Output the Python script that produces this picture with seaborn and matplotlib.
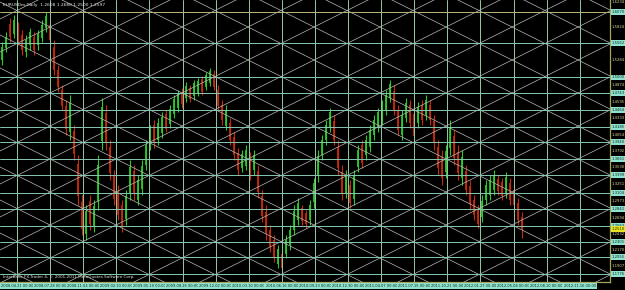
import numpy as np
import pandas as pd
import matplotlib
matplotlib.use("Agg")
import matplotlib.pyplot as plt
import seaborn as sns

# ---------------- data ----------------
chart_title = "EURUSDm,Daily  1.2608 1.2680 1.2500 1.2597"
footer_text = "Interbank FX-Trader 4, \u00a9 2001-2011 MetaQuotes Software Corp."

opens = [1.528, 1.548, 1.588, 1.571, 1.583, 1.569, 1.541, 1.553, 1.566, 1.553,
         1.564, 1.581, 1.586, 1.550, 1.512, 1.479, 1.453, 1.410, 1.412, 1.358,
         1.296, 1.243, 1.297, 1.255, 1.298, 1.396, 1.442, 1.385, 1.338, 1.313,
         1.290, 1.267, 1.309, 1.346, 1.299, 1.317, 1.356, 1.388, 1.422, 1.397,
         1.408, 1.440, 1.423, 1.440, 1.449, 1.476, 1.466, 1.482, 1.469, 1.474,
         1.497, 1.484, 1.491, 1.506, 1.479, 1.455, 1.421, 1.425, 1.402, 1.376,
         1.351, 1.355, 1.369, 1.348, 1.346, 1.305, 1.280, 1.250, 1.233, 1.194,
         1.210, 1.211, 1.225, 1.250, 1.266, 1.285, 1.277, 1.266, 1.295, 1.338,
         1.372, 1.397, 1.417, 1.429, 1.386, 1.345, 1.310, 1.323, 1.301, 1.353,
         1.389, 1.372, 1.386, 1.405, 1.417, 1.430, 1.446, 1.466, 1.478, 1.446,
         1.405, 1.433, 1.455, 1.440, 1.425, 1.455, 1.438, 1.455, 1.428, 1.386,
         1.370, 1.345, 1.384, 1.403, 1.378, 1.335, 1.346, 1.322, 1.299, 1.284,
         1.271, 1.299, 1.307, 1.315, 1.334, 1.328, 1.310, 1.327, 1.316, 1.294,
         1.271]
highs = [1.558, 1.574, 1.597, 1.602, 1.591, 1.578, 1.569, 1.581, 1.574, 1.578,
         1.594, 1.607, 1.594, 1.561, 1.520, 1.487, 1.463, 1.471, 1.422, 1.373,
         1.307, 1.291, 1.307, 1.299, 1.373, 1.466, 1.455, 1.397, 1.348, 1.323,
         1.299, 1.315, 1.364, 1.356, 1.340, 1.364, 1.397, 1.422, 1.430, 1.433,
         1.443, 1.446, 1.455, 1.471, 1.479, 1.482, 1.492, 1.487, 1.496, 1.499,
         1.502, 1.509, 1.515, 1.512, 1.487, 1.463, 1.455, 1.433, 1.410, 1.384,
         1.381, 1.389, 1.378, 1.381, 1.356, 1.315, 1.291, 1.258, 1.241, 1.225,
         1.217, 1.241, 1.258, 1.291, 1.302, 1.291, 1.283, 1.299, 1.335, 1.381,
         1.405, 1.430, 1.450, 1.438, 1.397, 1.356, 1.348, 1.332, 1.348, 1.389,
         1.397, 1.405, 1.422, 1.438, 1.450, 1.463, 1.479, 1.496, 1.487, 1.455,
         1.446, 1.466, 1.463, 1.450, 1.460, 1.463, 1.471, 1.463, 1.438, 1.397,
         1.381, 1.389, 1.430, 1.414, 1.389, 1.381, 1.356, 1.332, 1.307, 1.291,
         1.307, 1.332, 1.340, 1.348, 1.340, 1.335, 1.345, 1.335, 1.323, 1.302,
         1.279]
lows = [1.520, 1.541, 1.558, 1.564, 1.553, 1.537, 1.533, 1.545, 1.537, 1.545,
        1.558, 1.574, 1.553, 1.504, 1.476, 1.446, 1.405, 1.397, 1.364, 1.291,
        1.241, 1.233, 1.250, 1.246, 1.283, 1.381, 1.381, 1.332, 1.291, 1.266,
        1.246, 1.258, 1.299, 1.299, 1.291, 1.307, 1.348, 1.381, 1.384, 1.389,
        1.400, 1.410, 1.417, 1.433, 1.443, 1.450, 1.460, 1.460, 1.463, 1.469,
        1.471, 1.479, 1.486, 1.479, 1.446, 1.422, 1.414, 1.389, 1.364, 1.340,
        1.345, 1.348, 1.332, 1.340, 1.302, 1.263, 1.233, 1.214, 1.197, 1.187,
        1.181, 1.204, 1.217, 1.241, 1.258, 1.258, 1.253, 1.258, 1.286, 1.328,
        1.364, 1.389, 1.410, 1.389, 1.340, 1.299, 1.302, 1.286, 1.291, 1.345,
        1.351, 1.364, 1.378, 1.397, 1.410, 1.422, 1.438, 1.460, 1.438, 1.405,
        1.397, 1.427, 1.417, 1.394, 1.417, 1.422, 1.430, 1.422, 1.381, 1.340,
        1.323, 1.335, 1.373, 1.356, 1.332, 1.323, 1.307, 1.283, 1.266, 1.253,
        1.263, 1.291, 1.299, 1.307, 1.307, 1.299, 1.302, 1.291, 1.283, 1.258,
        1.237]
closes = [1.550, 1.566, 1.566, 1.594, 1.561, 1.545, 1.561, 1.574, 1.545, 1.571,
          1.586, 1.600, 1.561, 1.512, 1.484, 1.453, 1.415, 1.458, 1.374, 1.305,
          1.252, 1.281, 1.259, 1.289, 1.357, 1.451, 1.394, 1.343, 1.300, 1.275,
          1.254, 1.305, 1.353, 1.308, 1.332, 1.354, 1.389, 1.415, 1.392, 1.425,
          1.435, 1.416, 1.448, 1.464, 1.472, 1.456, 1.486, 1.465, 1.490, 1.494,
          1.476, 1.504, 1.510, 1.484, 1.453, 1.430, 1.447, 1.397, 1.373, 1.348,
          1.374, 1.381, 1.340, 1.373, 1.312, 1.272, 1.244, 1.222, 1.205, 1.218,
          1.188, 1.234, 1.250, 1.281, 1.294, 1.264, 1.259, 1.291, 1.326, 1.371,
          1.397, 1.422, 1.443, 1.398, 1.351, 1.310, 1.340, 1.294, 1.338, 1.381,
          1.359, 1.397, 1.414, 1.430, 1.443, 1.455, 1.471, 1.489, 1.447, 1.414,
          1.438, 1.458, 1.425, 1.404, 1.452, 1.430, 1.463, 1.430, 1.392, 1.351,
          1.335, 1.379, 1.419, 1.367, 1.343, 1.370, 1.316, 1.292, 1.274, 1.260,
          1.298, 1.324, 1.332, 1.340, 1.313, 1.306, 1.337, 1.299, 1.291, 1.266,
          1.251]

level_prices = [1.6070, 1.5562, 1.5000, 1.4743, 1.4464, 1.4185, 1.3940, 1.3661,
                1.3399, 1.3104, 1.2842, 1.2563, 1.2301, 1.2055, 1.1776]
scale_prices = [1.6234, 1.5824, 1.5284, 1.4874, 1.4595, 1.4333, 1.4054, 1.3792,
                1.3530, 1.3251, 1.2973, 1.2694, 1.2432, 1.2170, 1.1907]
date_labels = ["2008.04.21 00:00", "2008.07.28 00:00", "2008.11.04 00:00",
               "2009.02.10 00:00", "2009.05.19 00:00", "2009.08.26 00:00",
               "2009.12.02 00:00", "2010.03.10 00:00", "2010.06.16 00:00",
               "2010.09.23 00:00", "2010.12.30 00:00", "2011.04.07 00:00",
               "2011.07.15 00:00", "2011.10.21 00:00", "2012.01.27 00:00",
               "2012.05.04 00:00", "2012.08.10 00:00", "2012.11.16 00:00"]

df = pd.DataFrame({"open": opens, "high": highs, "low": lows, "close": closes})
df["bar"] = np.arange(len(df))
df["up"] = df["close"] >= df["open"]

# ---------------- style ----------------
sns.set_theme(style="dark", rc={"axes.facecolor": "black", "figure.facecolor": "black"})
plt.rcParams["font.family"] = ["DejaVu Sans"]

W_PX, H_PX = 625, 290
PLOT_W, PLOT_H, BOTTOM = 610, 282, 8
fig = plt.figure(figsize=(W_PX / 100, H_PX / 100), dpi=100, facecolor="black")
ax = fig.add_axes([0, BOTTOM / H_PX, PLOT_W / W_PX, PLOT_H / H_PX])
ax.set_facecolor("black")
ax.set_xlim(-0.5, 152)
ax.set_ylim(1.1645, 1.6267)
ax.set_xticks([])
ax.set_yticks([])
ax.grid(False)
for s in ["top", "left"]:
    ax.spines[s].set_visible(False)
for s in ["right", "bottom"]:
    ax.spines[s].set_color("#a4a45a")
    ax.spines[s].set_linewidth(0.9)

UP, DOWN = "#2cc82c", "#c8280c"
cols = np.where(df["up"], UP, DOWN)

# candles
ax.vlines(df["bar"], df["low"], df["high"], colors=cols, linewidth=0.8, zorder=2)
ax.bar(df["bar"], (df["close"] - df["open"]).abs(), bottom=np.minimum(df["open"], df["close"]),
       width=0.62, color=cols, linewidth=0, alpha=0.9, zorder=2)

# Gann-style diagonal lattice (pixel geometry of the plot box)
def frac(xp, yp):
    return xp / PLOT_W, 1 - yp / PLOT_H

diag_col = "#b8b8b8"
for n in range(-12, 12):
    x0, y0 = frac(0, 2 + 33 * n)
    x1, y1 = frac(PLOT_W, 2 + 33 * n + 0.5 * PLOT_W)
    ax.plot([x0, x1], [y0, y1], transform=ax.transAxes, color=diag_col, lw=0.5, zorder=3)
for n in range(-2, 20):
    x0, y0 = frac(0, 19 + 33 * n)
    x1, y1 = frac(PLOT_W, 19 + 33 * n - 0.5 * PLOT_W)
    ax.plot([x0, x1], [y0, y1], transform=ax.transAxes, color=diag_col, lw=0.5, zorder=3)

# vertical lines
vpos = [(17 + 33.1 * k - 2) / 4 for k in range(len(date_labels))]
for v in vpos:
    ax.axvline(v, color="#96c8a4", lw=0.7, zorder=3)

# horizontal levels
for i, p in enumerate(level_prices):
    ax.axhline(p, color="#b8b87c" if i == 0 else "#86c8b4", lw=0.7, zorder=3)

# price scale labels
def fig_y(price):
    lo, hi = ax.get_ylim()
    return (BOTTOM + (price - lo) / (hi - lo) * PLOT_H) / H_PX

xl = (PLOT_W + 1.5) / W_PX
fs = 2.7
for p in scale_prices:
    fig.text(xl, fig_y(p), f"{p:.4f}", color="#dcdca0", fontsize=fs, va="center", ha="left")
for p in level_prices:
    fig.text(xl, fig_y(p), f"{p:.4f}", color="#0a2a20", fontsize=fs, va="center", ha="left",
             bbox=dict(boxstyle="square,pad=0.2", fc="#8fe2cf", ec="none"))
last = df["close"].iloc[-1]
fig.text(xl, fig_y(last), f"{last:.4f}", color="#202000", fontsize=fs, va="center", ha="left",
         bbox=dict(boxstyle="square,pad=0.2", fc="#e6e61e", ec="none"))

# date labels
for v, lab in zip(vpos, date_labels):
    xf = (4 * v + 2) / W_PX
    fig.text(xf, 3.6 / H_PX, lab, color="#0a2a20", fontsize=2.6, va="center", ha="center",
             bbox=dict(boxstyle="square,pad=0.3", fc="#8fe2cf", ec="none"))

ax.text(0.005, 0.99, chart_title, transform=ax.transAxes, color="#e8e8e8",
        fontsize=3.2, va="top", ha="left", zorder=5)
ax.text(0.005, 0.012, footer_text, transform=ax.transAxes, color="#e0e0d0",
        fontsize=3.0, va="bottom", ha="left", zorder=5)

fig.savefig("out.png", dpi=100, facecolor="black")
